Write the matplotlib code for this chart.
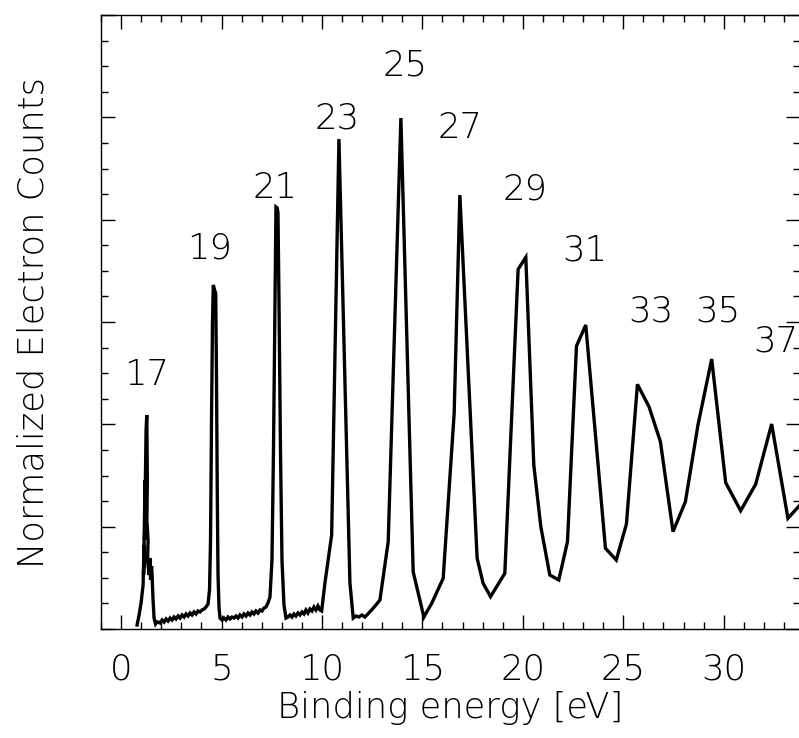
import matplotlib
matplotlib.use("Agg")
import matplotlib.pyplot as plt
from matplotlib.ticker import MultipleLocator, NullFormatter

plt.rcParams['font.family'] = ['DejaVu Sans']

# Binding energy [eV]
energy = [
    0.796, 0.896, 0.995, 1.095, 1.144, 1.119, 1.194, 1.169, 1.244, 1.279,
    1.308, 1.284, 1.343, 1.318, 1.393, 1.443, 1.468, 1.517, 1.542, 1.592,
    1.642, 1.716, 1.791,
    1.841, 1.940, 2.040, 2.139, 2.239, 2.338, 2.438, 2.537, 2.637, 2.736,
    2.836, 2.935, 3.035, 3.134, 3.234, 3.333, 3.433, 3.532, 3.632, 3.731,
    3.831, 3.930, 4.030, 4.129, 4.229, 4.328,
    4.403, 4.453, 4.502, 4.552, 4.592, 4.652, 4.711, 4.751, 4.791, 4.826,
    4.876, 4.925,
    5.025, 5.124, 5.224, 5.323, 5.423, 5.522, 5.622, 5.721, 5.821, 5.920,
    6.020, 6.119, 6.219, 6.318, 6.418, 6.517, 6.617, 6.716, 6.816, 6.915,
    7.015, 7.114, 7.214, 7.313, 7.413,
    7.512, 7.587, 7.662, 7.711, 7.776, 7.811, 7.861, 7.935, 8.010, 8.109,
    8.209,
    8.308, 8.408, 8.507, 8.607, 8.706, 8.806, 8.905, 9.005, 9.104, 9.204,
    9.303, 9.403, 9.502, 9.602, 9.701, 9.801, 9.900,
    9.985, 10.149, 10.483, 10.846, 11.393, 11.557, 11.692, 11.841, 11.990,
    12.139, 12.289, 12.473, 12.687, 12.886, 13.299, 13.930, 14.542, 15.075,
    15.473, 16.035, 16.582, 16.866, 17.726, 18.025, 18.393, 19.104, 19.766,
    20.149, 20.547, 20.896, 21.343, 21.791, 22.224, 22.672, 23.134, 24.114,
    24.652, 25.159, 25.706, 26.284, 26.851, 27.478, 28.094, 28.721, 29.403,
    30.100, 30.846, 31.592, 32.388, 33.199, 34.030,
]

# Normalized electron counts (arbitrary units)
counts = [
    0.039, 0.137, 0.254, 0.430, 0.821, 0.528, 1.456, 0.870, 1.945, 2.091,
    1.456, 1.065, 0.870, 0.674, 0.528, 0.694, 0.479, 0.616, 0.528, 0.283,
    0.107, 0.049, 0.068,
    0.068, 0.059, 0.088, 0.068, 0.098, 0.078, 0.107, 0.088, 0.117, 0.098,
    0.127, 0.107, 0.137, 0.117, 0.147, 0.127, 0.156, 0.137, 0.166, 0.147,
    0.176, 0.166, 0.186, 0.195, 0.215, 0.244,
    0.381, 0.870, 2.042, 3.020, 3.362, 3.313, 3.283, 2.433, 1.261, 0.528,
    0.205, 0.107,
    0.088, 0.107, 0.088, 0.117, 0.098, 0.117, 0.107, 0.127, 0.107, 0.137,
    0.117, 0.147, 0.127, 0.156, 0.137, 0.166, 0.147, 0.176, 0.156, 0.186,
    0.176, 0.205, 0.215, 0.254, 0.313,
    0.674, 1.749, 3.215, 4.124, 4.114, 4.065, 3.215, 1.749, 0.674, 0.235,
    0.107,
    0.117, 0.137, 0.117, 0.147, 0.127, 0.156, 0.137, 0.166, 0.147, 0.186,
    0.156, 0.195, 0.176, 0.215, 0.186, 0.225, 0.186,
    0.176, 0.450, 0.919, 4.788, 0.450, 0.107, 0.127, 0.117, 0.137,
    0.117, 0.147, 0.186, 0.235, 0.283, 0.853, 4.993, 0.559, 0.117,
    0.254, 0.495, 2.107, 4.241, 0.691, 0.446, 0.316, 0.544, 3.515,
    3.632, 1.603, 1.000, 0.528, 0.479, 0.853, 2.765, 2.971, 0.789,
    0.674, 1.026, 2.391, 2.172, 1.830, 0.951, 1.244, 1.994, 2.638,
    1.430, 1.156, 1.414, 2.003, 1.082, 1.261,
]

# Peak labels (harmonic order) and their positions
peak_labels = ["17", "19", "21", "23", "25", "27", "29", "31", "33", "35", "37"]
label_x = [1.29, 4.43, 7.66, 10.74, 14.13, 16.87, 20.1, 23.1, 26.4, 29.7, 32.6]
label_y = [2.48, 3.72, 4.31, 4.99, 5.51, 4.90, 4.29, 3.70, 3.10, 3.10, 2.81]

FS = 25.5

fig = plt.figure(figsize=(7.99, 7.38), dpi=100)
W, H = 799, 738
ax = fig.add_axes([101 / W, (H - 629) / H, (800 - 101) / W, (629 - 15) / H])

ax.plot(energy, counts, color='black', lw=2.4, solid_joinstyle='miter')

for lab, lx, ly in zip(peak_labels, label_x, label_y):
    ax.text(lx, ly, lab, ha='center', va='center', fontsize=FS,
            fontweight='light', clip_on=False)

ax.set_xlim(-1.0, 33.8)
ax.set_ylim(0, 6)

ax.xaxis.set_major_locator(MultipleLocator(5))
ax.xaxis.set_minor_locator(MultipleLocator(1))
ax.yaxis.set_major_locator(MultipleLocator(1))
ax.yaxis.set_minor_locator(MultipleLocator(0.25))
ax.yaxis.set_major_formatter(NullFormatter())

ax.tick_params(which='both', direction='in', top=True, right=True,
               width=1.0, color='black')
ax.tick_params(which='major', length=10)
ax.tick_params(which='minor', length=5)
ax.tick_params(axis='x', which='major', pad=17, labelsize=FS)
for lab in ax.get_xticklabels():
    lab.set_fontweight('light')

for s in ax.spines.values():
    s.set_linewidth(1.0)

ax.set_xlabel("Binding energy [eV]", fontsize=FS, fontweight='light', labelpad=3)
ax.set_ylabel("Normalized Electron Counts", fontsize=FS, fontweight='light',
              labelpad=33)

fig.savefig("out.png", dpi=100)
